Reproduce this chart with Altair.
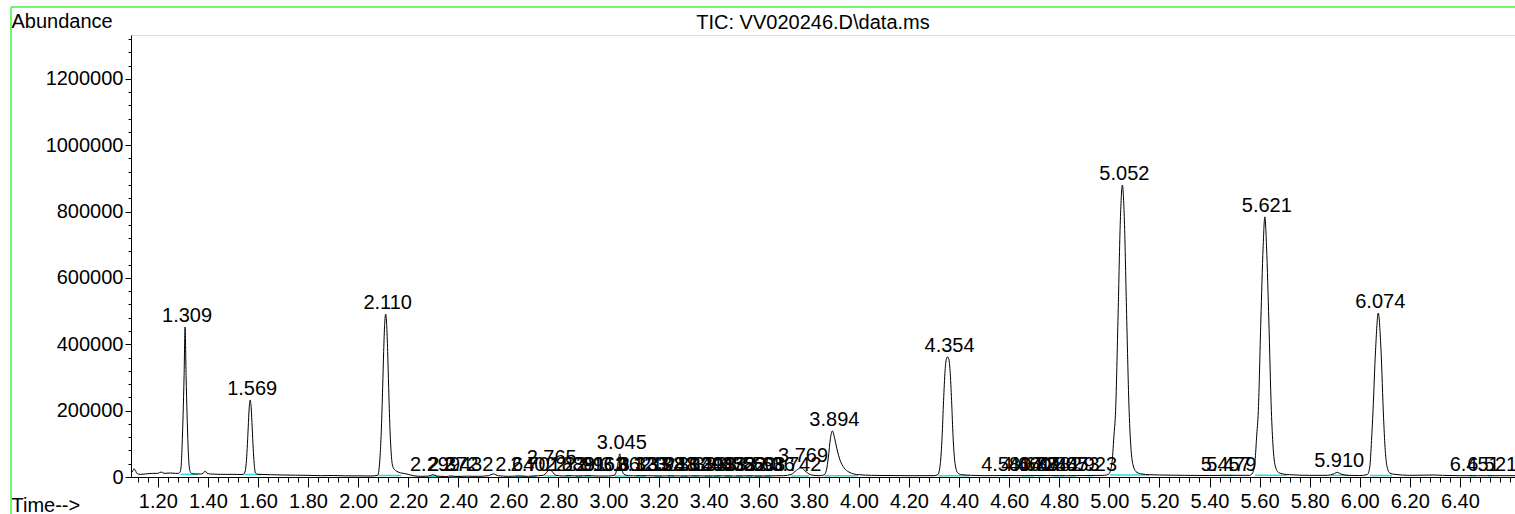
import altair as alt
import pandas as pd

# ---------------- data ----------------
trace_time = [
    1.093, 1.100, 1.105, 1.110, 1.118, 1.130, 1.150, 1.180, 1.200, 1.214, 1.225, 1.250, 1.270, 1.282,
    1.288, 1.293, 1.297, 1.301, 1.305, 1.309, 1.313, 1.317, 1.321, 1.325, 1.330, 1.336, 1.345, 1.370,
    1.382, 1.389, 1.396, 1.410, 1.450, 1.500, 1.540, 1.548, 1.553, 1.557, 1.561, 1.565, 1.569, 1.573,
    1.577, 1.581, 1.585, 1.590, 1.600, 1.650, 1.700, 1.750, 1.800, 1.850, 1.900, 1.950, 2.000, 2.050,
    2.078, 2.083, 2.088, 2.093, 2.098, 2.102, 2.106, 2.110, 2.114, 2.118, 2.122, 2.127, 2.132, 2.140,
    2.160, 2.180, 2.200, 2.220, 2.250, 2.280, 2.299, 2.315, 2.350, 2.372, 2.390, 2.432, 2.480, 2.520,
    2.540, 2.560, 2.600, 2.640, 2.680, 2.701, 2.740, 2.765, 2.790, 2.820, 2.839, 2.880, 2.916, 2.960,
    3.000, 3.025, 3.035, 3.045, 3.052, 3.062, 3.080, 3.100, 3.150, 3.200, 3.250, 3.300, 3.350, 3.400,
    3.450, 3.500, 3.550, 3.600, 3.650, 3.700, 3.730, 3.750, 3.769, 3.790, 3.810, 3.840, 3.860, 3.870,
    3.878, 3.886, 3.894, 3.902, 3.912, 3.925, 3.940, 3.960, 3.980, 4.000, 4.050, 4.100, 4.200, 4.300,
    4.315, 4.325, 4.332, 4.338, 4.344, 4.349, 4.354, 4.359, 4.364, 4.370, 4.376, 4.384, 4.395, 4.410,
    4.450, 4.500, 4.580, 4.660, 4.720, 4.800, 4.850, 4.923, 4.980, 4.998, 5.010, 5.018, 5.025, 5.035,
    5.044, 5.052, 5.060, 5.069, 5.079, 5.087, 5.097, 5.110, 5.130, 5.160, 5.200, 5.300, 5.400, 5.457,
    5.479, 5.560, 5.572, 5.582, 5.588, 5.595, 5.605, 5.614, 5.621, 5.628, 5.637, 5.647, 5.654, 5.662,
    5.675, 5.695, 5.720, 5.800, 5.870, 5.895, 5.910, 5.925, 5.950, 6.000, 6.030, 6.040, 6.047, 6.053,
    6.063, 6.074, 6.085, 6.095, 6.101, 6.108, 6.120, 6.140, 6.200, 6.300, 6.330, 6.400, 6.451, 6.521,
    6.620,
]
trace_abund = [
    12000, 18000, 25000, 20000, 10000, 8000, 9000, 11000, 11000, 15000, 11000, 12000, 11000, 11000,
    14000, 30000, 93000, 186000, 305000, 452000, 305000, 186000, 93000, 35000, 15000, 10000, 9000, 9000,
    12000, 18000, 12000, 9000, 8000, 8000, 7500, 15000, 40000, 86000, 148000, 208000, 232000, 208000,
    148000, 86000, 40000, 12000, 8000, 7000, 6000, 5500, 5000, 4000, 4500, 3500, 3500, 3000,
    5000, 20000, 66000, 147000, 270000, 378000, 460000, 491000, 460000, 378000, 270000, 150000, 72000, 28000,
    15000, 11000, 8000, 4000, 2000, 2500, 7000, 2500, 1500, 3000, 1500, 2500, 2000, 4000,
    9000, 4000, 2000, 3000, 2000, 3000, 5000, 22000, 5000, 3000, 4000, 3000, 4000, 3000,
    3000, 6000, 30000, 70000, 30000, 8000, 4000, 3500, 4000, 3000, 3500, 3000, 3500, 3000,
    3500, 3000, 3500, 3000, 3500, 4000, 8000, 20000, 28000, 15000, 6000, 4000, 6000, 20000,
    60000, 115000, 139000, 120000, 85000, 50000, 28000, 15000, 9000, 7000, 5000, 4500, 4000, 4000,
    7000, 40000, 120000, 230000, 320000, 355000, 362000, 355000, 320000, 230000, 120000, 40000, 12000, 7000,
    5000, 4000, 4500, 4000, 4500, 4000, 4000, 4500, 5000, 9000, 40000, 120000, 200000, 490000,
    774000, 880000, 774000, 490000, 200000, 80000, 30000, 14000, 9000, 7000, 6000, 5000, 4500, 5000,
    5000, 5000, 12000, 50000, 120000, 200000, 470000, 690000, 784000, 690000, 470000, 200000, 90000, 35000,
    14000, 9000, 7000, 5000, 5000, 9000, 14000, 9000, 5000, 4500, 7000, 30000, 110000, 200000,
    380000, 494000, 380000, 180000, 90000, 35000, 12000, 8000, 5000, 6000, 5000, 4000, 4000, 4000,
    4000,
]

label_time = [
    1.309, 1.569, 2.110,
    2.299, 2.372, 2.432,
    2.640, 2.701, 2.765, 2.839, 2.881, 2.916, 2.962, 3.045, 3.062,
    3.123, 3.133, 3.198, 3.248, 3.302, 3.349, 3.398, 3.433, 3.478, 3.522, 3.560, 3.598, 3.636, 3.742,
    3.769, 3.894, 4.354,
    4.580, 4.660, 4.688, 4.724, 4.782, 4.807, 4.853, 4.923,
    5.052, 5.457, 5.479, 5.621, 5.910, 6.074, 6.451, 6.521,
]
label_height = [
    452000, 232000, 491000,
    2000, 2000, 2000,
    2000, 2000, 25000, 2000, 2000, 2000, 2000, 70000, 2000,
    2000, 2000, 2000, 2000, 2000, 2000, 2000, 2000, 2000, 2000, 2000, 2000, 2000, 2000,
    30000, 139000, 362000,
    2000, 2000, 2000, 2000, 2000, 2000, 2000, 2000,
    880000, 2000, 2000, 784000, 15000, 494000, 2000, 2000,
]

# integration baselines (start, end, level)
base_start = [1.290, 1.546, 2.081, 2.285, 2.365, 2.628, 2.690, 2.745, 2.828, 2.870, 2.905,
              3.025, 3.110, 3.185, 3.235, 3.290, 3.335, 3.385, 3.420, 3.465, 3.510, 3.548, 3.585,
              3.625, 3.730, 3.862, 4.318, 4.570, 4.650, 4.715, 4.775, 4.840, 4.912, 5.002, 5.445,
              5.470, 5.582, 5.885, 6.040, 6.440, 6.512]
base_end = [1.360, 1.613, 2.172, 2.318, 2.405, 2.665, 2.712, 2.790, 2.850, 2.895, 2.930,
            3.080, 3.150, 3.212, 3.262, 3.315, 3.362, 3.412, 3.448, 3.492, 3.535, 3.575, 3.612,
            3.650, 3.800, 3.995, 4.440, 4.592, 4.700, 4.738, 4.820, 4.866, 4.935, 5.160, 5.466,
            5.492, 5.710, 5.955, 6.130, 6.462, 6.530]
base_level = [8000, 7500, 4500, 2000, 1500, 2500, 2500, 3500, 3000, 3000, 3000,
              3000, 3000, 3000, 3000, 3000, 3000, 3000, 3000, 3000, 3000, 3000, 3000,
              3000, 3500, 4000, 4000, 4000, 4000, 4000, 4000, 4000, 4000, 6000, 4500,
              4500, 5000, 5000, 4500, 4000, 4000]

x_major_ticks = [1.20, 1.40, 1.60, 1.80, 2.00, 2.20, 2.40, 2.60, 2.80, 3.00, 3.20, 3.40, 3.60,
                 3.80, 4.00, 4.20, 4.40, 4.60, 4.80, 5.00, 5.20, 5.40, 5.60, 5.80, 6.00, 6.20, 6.40]
x_minor_ticks = [round(1.12 + 0.04 * i, 2) for i in range(138)]
y_major_ticks = [0, 200000, 400000, 600000, 800000, 1000000, 1200000]
y_minor_ticks = [40000 * i for i in range(1, 34)]

chart_title = "TIC: VV020246.D\\data.ms"

# ---------------- chart ----------------
FONT = "Liberation Sans"
W, H = 1384, 442
PAD_L, PAD_T, PAD_R, PAD_B = 131, 35, 0, 37

df_trace = pd.DataFrame({"t": trace_time, "a": trace_abund})
df_lab = pd.DataFrame({"t": label_time, "h": label_height,
                       "txt": [f"{v:.3f}" for v in label_time]})
df_base = pd.DataFrame({"t0": base_start, "t1": base_end, "b": base_level})
df_one = pd.DataFrame({"k": [0]})

xs = alt.Scale(domain=[1.093, 6.62], nice=False, zero=False)
ys = alt.Scale(domain=[0, 1332000], nice=False, zero=False)

common_axis = dict(grid=False, domainColor="black", tickColor="black", labelColor="black",
                   labelFont=FONT, labelFontSize=20, titleFont=FONT, titleFontSize=20,
                   titleFontWeight="normal", titleColor="black", domainWidth=1, tickWidth=1)

trace = alt.Chart(df_trace).mark_line(color="black", strokeWidth=1, interpolate="monotone").encode(
    x=alt.X("t:Q", scale=xs, axis=alt.Axis(
        orient="bottom", values=x_major_ticks, format=".2f", tickSize=10, labelPadding=4,
        labelFlush=False, labelOverlap=False, title="Time-->", titleX=-120, titleY=28,
        titleAlign="left", titleBaseline="middle", titleAngle=0, **common_axis)),
    y=alt.Y("a:Q", scale=ys, axis=alt.Axis(
        orient="left", values=y_major_ticks, format="d", tickSize=6, labelPadding=2,
        labelFlush=False, labelOverlap=False, title="Abundance", titleX=-120, titleY=-14,
        titleAlign="left", titleBaseline="middle", titleAngle=0, **common_axis)),
)

bases = alt.Chart(df_base).mark_rule(color="#22dede", strokeWidth=1.5).encode(
    x=alt.X("t0:Q", scale=xs, axis=alt.Axis(
        orient="bottom", values=x_minor_ticks, labels=False, tickSize=5, domain=False,
        title=None, grid=False, tickColor="black")),
    x2="t1:Q",
    y=alt.Y("b:Q", scale=ys, axis=alt.Axis(
        orient="left", values=y_minor_ticks, labels=False, tickSize=3, domain=False,
        title=None, grid=False, tickColor="black")),
)

labels = alt.Chart(df_lab).mark_text(font=FONT, fontSize=20, baseline="alphabetic",
                                     align="center", dx=2, dy=-5, color="black").encode(
    x=alt.X("t:Q", scale=xs, axis=None),
    y=alt.Y("h:Q", scale=ys, axis=None),
    text="txt:N",
)

title_mark = alt.Chart(df_one).mark_text(
    text=chart_title, font=FONT, fontSize=20, baseline="middle", align="center", color="black"
).encode(x=alt.value(W / 2 - 10), y=alt.value(-12))

frame_v = alt.Chart(df_one).mark_rule(color="#44f044", strokeWidth=1.5).encode(
    x=alt.value(-120), y=alt.value(-28), y2=alt.value(H + PAD_B))
frame_h = alt.Chart(df_one).mark_rule(color="#44f044", strokeWidth=1.5).encode(
    x=alt.value(-120), x2=alt.value(W), y=alt.value(-28))

chart = alt.layer(bases, trace, labels, title_mark, frame_v, frame_h).resolve_axis(
    x="independent", y="independent"
).properties(
    width=W, height=H,
    autosize=alt.AutoSizeParams(type="none"),
    padding={"left": PAD_L, "top": PAD_T, "right": PAD_R, "bottom": PAD_B},
).configure_view(stroke="transparent").configure(background="white")

chart.save("out.html", embed_options={"renderer": "svg", "actions": False})
